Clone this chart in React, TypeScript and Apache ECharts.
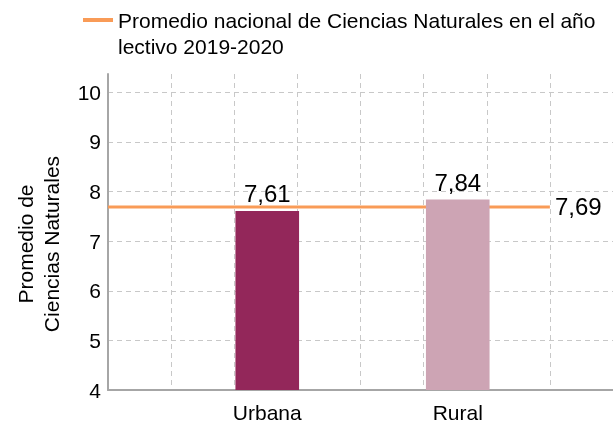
import React, { useEffect, useRef } from 'react';
import * as echarts from 'echarts';

const categories = ['Urbana', 'Rural'];
const barValues = [7.61, 7.84];
const barColors = ['#93275A', '#CDA4B4'];
const nationalAverage = 7.69;
const legendLabel = 'Promedio nacional de Ciencias Naturales en el año\nlectivo 2019-2020';
const yAxisTitle = 'Promedio de\nCiencias Naturales';
const yMin = 4;
const yMax = 10.37;
const yInterval = 1;

const FONT = '"Liberation Sans", Arial, sans-serif';
const fmt = (v: number) => v.toFixed(2).replace('.', ',');

export default function App() {
  const ref = useRef<HTMLDivElement>(null);
  useEffect(() => {
    if (!ref.current) return;
    const chart = echarts.init(ref.current, undefined, { renderer: 'svg' });
    const dashed = { show: true, lineStyle: { color: '#C8C8C8', width: 1, type: [5, 4] as any } };
    chart.setOption({
      animation: false,
      textStyle: { fontFamily: FONT },
      grid: [
        { left: 108, top: 74, width: 508, height: 316 },
        { left: 172, top: 74, width: 381, height: 316 },
      ],
      xAxis: [
        {
          type: 'value', gridIndex: 0, min: 0, max: 8, interval: 1,
          axisLine: { show: true, lineStyle: { color: '#A6A6A6', width: 2 } },
          axisTick: { show: false }, axisLabel: { show: false },
          splitLine: dashed,
        },
        {
          type: 'category', gridIndex: 1, data: categories,
          axisLine: { show: false }, axisTick: { show: false },
          axisLabel: { fontSize: 21, color: '#000', margin: 12, fontFamily: FONT },
          splitLine: { show: false },
        },
      ],
      yAxis: [
        {
          type: 'value', gridIndex: 0, min: yMin, max: yMax, interval: yInterval,
          axisLine: { show: true, lineStyle: { color: '#A6A6A6', width: 2 } },
          axisTick: { show: false },
          axisLabel: {
            fontSize: 21, color: '#000', margin: 7, fontFamily: FONT, showMaxLabel: false,
            formatter: (v: number) => (Number.isInteger(v) ? String(v) : ''),
          },
          splitLine: { ...dashed, showMaxLine: false },
        },
        { type: 'value', gridIndex: 1, min: yMin, max: yMax, show: false },
      ],
      series: [
        {
          type: 'line', name: 'Promedio nacional', xAxisIndex: 0, yAxisIndex: 0, z: 1,
          data: [[0, nationalAverage], [7, nationalAverage]],
          symbol: 'none',
          lineStyle: { color: '#F99B57', width: 3 },
          endLabel: {
            show: true, distance: 5, fontSize: 24, color: '#000', fontFamily: FONT,
            formatter: (p: any) => fmt(p.value[1]),
          },
        },
        {
          type: 'bar', xAxisIndex: 1, yAxisIndex: 1, z: 3,
          barWidth: '33.4%',
          data: barValues.map((v, i) => ({ value: v, itemStyle: { color: barColors[i] } })),
          label: {
            show: true, position: 'top', distance: 5, fontSize: 24, color: '#000', fontFamily: FONT,
            formatter: (p: any) => fmt(p.value),
          },
        },
      ],
      graphic: [
        { type: 'rect', left: 83, top: 18, shape: { width: 30, height: 4 }, style: { fill: '#F99B57' } },
        {
          type: 'text', left: 118, top: 7,
          style: { text: legendLabel, font: `21px ${FONT}`, fill: '#000', lineHeight: 26 },
        },
        {
          type: 'text', x: 38, y: 244, rotation: Math.PI / 2,
          style: {
            text: yAxisTitle, font: `21px ${FONT}`, fill: '#000', lineHeight: 26,
            align: 'center', verticalAlign: 'middle',
          },
        },
      ],
    });
    return () => chart.dispose();
  }, []);
  return <div ref={ref} style={{ position: 'fixed', left: 0, top: 0, width: 613, height: 423 }} />;
}
